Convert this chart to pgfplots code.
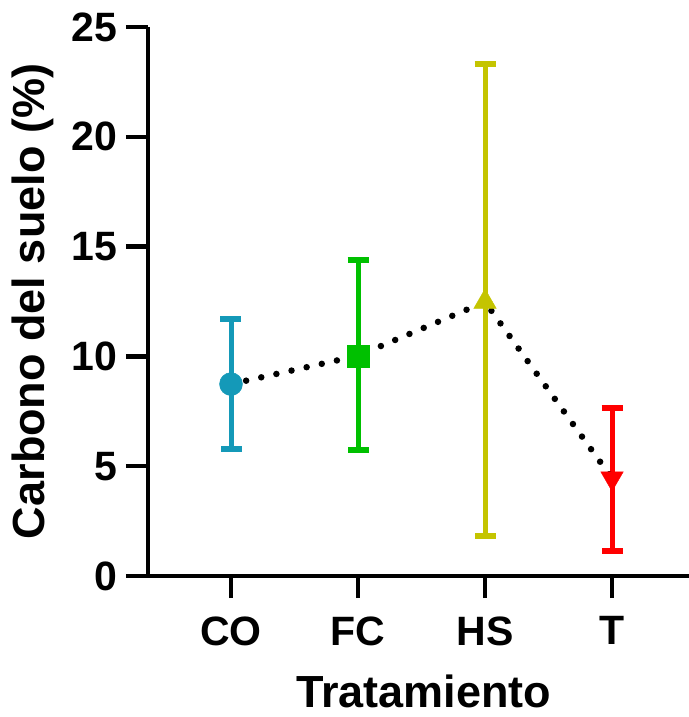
\documentclass[border=0pt]{standalone}
\usepackage{fontspec}
\setmainfont{Liberation Sans}
\usepackage{pgfplots}
\pgfplotsset{compat=1.18}
\definecolor{cCO}{RGB}{20,153,184}
\definecolor{cFC}{RGB}{0,192,0}
\definecolor{cHS}{RGB}{196,196,0}
\definecolor{cT}{RGB}{255,0,0}
\pgfplotsset{
  ebar/.style={only marks,
    error bars/y dir=both, error bars/y explicit,
    error bars/error bar style={line width=5pt, solid},
    error bars/error mark options={rotate=90, mark size=10.5pt, line width=6pt}}
}
\begin{document}
\begin{tikzpicture}
\begin{axis}[name=ax,
  scale only axis, width=541pt, height=549pt,
  xmin=-0.6535, xmax=3.606, ymin=0, ymax=25,
  axis x line=bottom, axis y line=left,
  axis line style={-, line width=4.5pt},
  xtick={0,1,2,3}, xticklabels={CO,FC,HS,T},
  ytick={0,5,...,25},
  tick align=outside, major tick length=22pt,
  tick style={line width=4.5pt, black},
  ticklabel style={font=\fontsize{41}{41}\selectfont\bfseries},
  xticklabel style={yshift=-15pt},
  yticklabel style={xshift=-5pt},
  /pgf/number format/assume math mode=true,
  xlabel={Tratamiento}, ylabel={Carbono del suelo (\%)},
  label style={font=\fontsize{45}{45}\selectfont\bfseries},
  xlabel style={at={(axis description cs:0.51,0)}, anchor=base, yshift=-131pt},
  ylabel style={at={(axis description cs:-0.2126,0.5)}, anchor=center},
  clip=false,
]
% means with asymmetric error bars
\addplot[cCO, ebar, mark=*, mark size=11.5pt, mark options={fill=cCO, draw=cCO}]
  coordinates {(0,8.74) += (0,2.96) -= (0,2.96)};
\addplot[cFC, ebar, mark=square*, mark size=11pt, mark options={fill=cFC, draw=cFC}]
  coordinates {(1,10.03) += (0,4.36) -= (0,4.28)};
\addplot[cHS, ebar, mark=triangle*, mark size=13pt, mark options={fill=cHS, draw=cHS}]
  coordinates {(2,12.48) += (0,10.85) -= (0,10.64)};
\addplot[cT, ebar, mark=triangle*, mark size=13pt, mark options={fill=cT, draw=cT, rotate=180}]
  coordinates {(3,4.45) += (0,3.21) -= (0,3.30)};
% dotted line joining the means
\addplot[black, line width=6.5pt, line cap=round, dash pattern=on 0pt off 15.5pt, mark=none]
  coordinates {(0,8.74) (1,10.03) (2,12.48) (3,4.45)};
\end{axis}
\pgfresetboundingbox
\path[use as bounding box] ([xshift=-148pt,yshift=-141pt]ax.south west) rectangle ([yshift=27pt]ax.north east);
\end{tikzpicture}
\end{document}
